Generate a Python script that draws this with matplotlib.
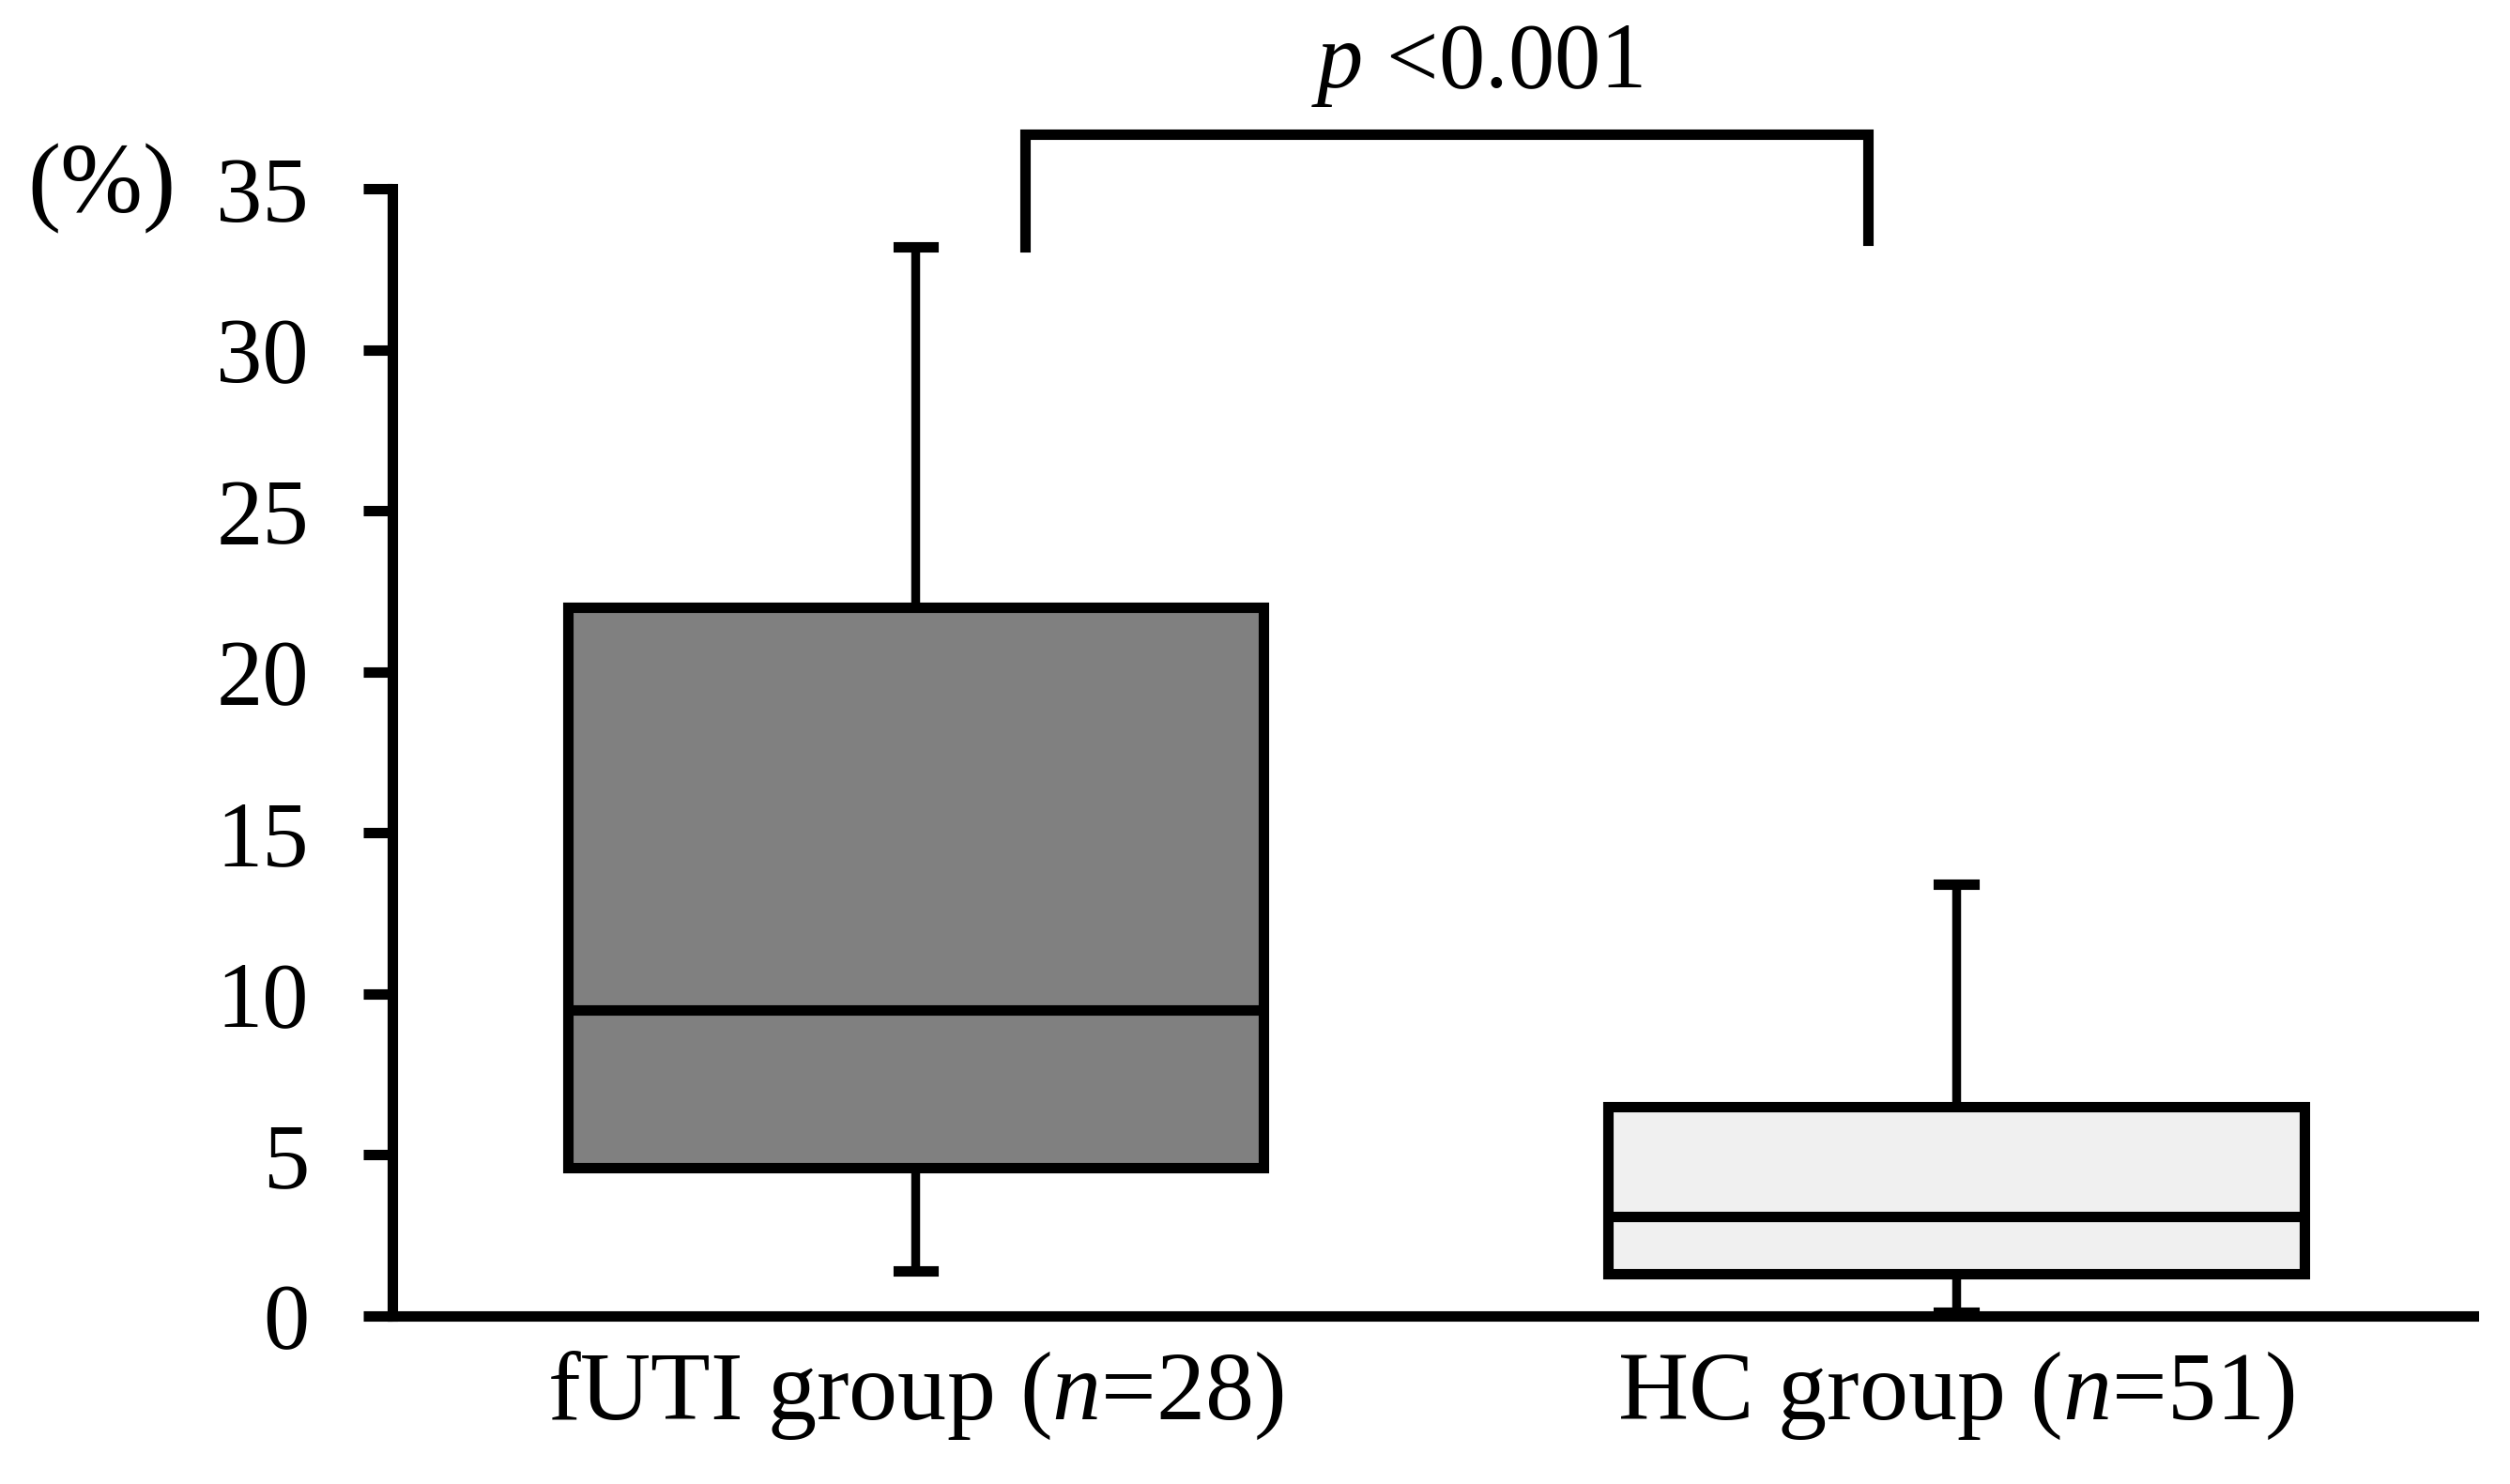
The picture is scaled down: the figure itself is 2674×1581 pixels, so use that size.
import matplotlib
matplotlib.use('Agg')
import matplotlib.pyplot as plt

# box statistics (%)
groups = ["fUTI group ($\\mathit{n}$=28)", "HC group ($\\mathit{n}$=51)"]
whisker_low = [1.4, 0.1]
q1 = [4.6, 1.3]
median = [9.5, 3.1]
q3 = [22.0, 6.5]
whisker_high = [33.2, 13.4]
fills = ['#808080', '#f0f0f0']

y_ticks = [0, 5, 10, 15, 20, 25, 30, 35]
p_text = "$\\mathit{p}$ <0.001"

plt.rcParams['font.family'] = 'Liberation Serif'
plt.rcParams['mathtext.fontset'] = 'custom'
plt.rcParams['mathtext.rm'] = 'Liberation Serif'
plt.rcParams['mathtext.it'] = 'Liberation Serif:italic'

lw = 8
fig = plt.figure(figsize=(26.74, 15.81), dpi=100)
ax = fig.add_axes([0.1563, 0.1133, 0.829, 0.7594])

stats = []
for i in range(len(groups)):
    stats.append({'whislo': whisker_low[i], 'q1': q1[i], 'med': median[i],
                  'q3': q3[i], 'whishi': whisker_high[i], 'label': groups[i]})

bp = ax.bxp(stats, positions=[1, 2], widths=0.669, patch_artist=True,
            showfliers=False, capwidths=0.034,
            boxprops=dict(linewidth=lw, edgecolor='black'),
            medianprops=dict(color='black', linewidth=lw),
            whiskerprops=dict(color='black', linewidth=lw * 0.85),
            capprops=dict(color='black', linewidth=lw))
for patch, c in zip(bp['boxes'], fills):
    patch.set_facecolor(c)

ax.set_xlim(0.497, 2.497)
ax.set_ylim(0, 35)
ax.set_yticks(y_ticks)

for s in ['top', 'right']:
    ax.spines[s].set_visible(False)
for s in ['left', 'bottom']:
    ax.spines[s].set_linewidth(lw)

ax.tick_params(axis='y', length=22, width=lw, pad=42, labelsize=71)
ax.tick_params(axis='x', length=0, pad=26, labelsize=75)

# significance bracket
x1, x2 = 1.105, 1.915
ax.plot([x1, x1, x2, x2], [33.2, 36.7, 36.7, 33.4], color='black',
        linewidth=lw, clip_on=False, solid_joinstyle='miter')
ax.text(1.54, 37.5, p_text, ha='center', va='bottom', fontsize=71)

ax.text(-0.104, 35, "(%)", transform=ax.get_yaxis_transform(),
        ha='right', va='center', fontsize=76)

plt.savefig('out.png')
